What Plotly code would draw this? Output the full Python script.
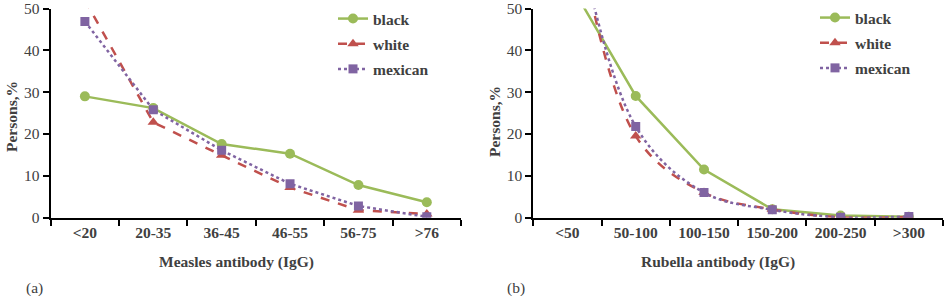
import plotly.graph_objects as go

W, H = 945, 296

measles_categories = ["<20", "20-35", "36-45", "46-55", "56-75", ">76"]
measles_black = [29.0, 26.2, 17.6, 15.3, 7.8, 3.7]
measles_white = [52.0, 22.8, 14.9, 7.2, 1.8, 0.9]
measles_mexican = [46.9, 25.8, 16.1, 8.1, 2.8, 0.2]

rubella_categories = ["<50", "50-100", "100-150", "150-200", "200-250", ">300"]
rubella_black = [57.0, 29.1, 11.5, 2.0, 0.5, 0.2]
rubella_white = [82.0, 19.5, 6.0, 2.0, 0.1, 0.2]
rubella_mexican = [80.0, 21.8, 6.0, 1.9, 0.1, 0.3]

series_names = ["black", "white", "mexican"]
colors = ["#9BBB59", "#C0504D", "#8064A2"]
dashes = ["solid", "dash", "dot"]
symbols = ["circle", "triangle-up", "square"]
sizes = [10, 10, 9]

FONT = "Liberation Serif"
TXT = "#404040"
FS = 15.5


def px_x(p):
    return p / W


def px_y(p):
    return 1 - p / H


fig = go.Figure()

panels = [
    (measles_categories, [measles_black, measles_white, measles_mexican], "x", "y", "legend",
     ["linear", "linear", "linear"]),
    (rubella_categories, [rubella_black, rubella_white, rubella_mexican], "x2", "y2", "legend2",
     ["linear", "spline", "spline"]),
]
for cats, vals, xa, ya, lg, shapes in panels:
    for i, name in enumerate(series_names):
        line = dict(color=colors[i], width=2.5, dash=dashes[i], shape=shapes[i])
        if shapes[i] == "spline":
            line["smoothing"] = 1.0
        fig.add_trace(go.Scatter(
            x=cats, y=vals[i], name="<b>" + name + "</b>", mode="lines+markers",
            xaxis=xa, yaxis=ya, legend=lg, legendgroup=lg + name,
            line=line,
            marker=dict(color=colors[i], symbol=symbols[i], size=sizes[i]),
        ))

tickfont = dict(family=FONT, size=FS, color=TXT)
xcommon = dict(type="category", tickson="boundaries", ticks="outside", ticklen=6,
               tickwidth=2, tickcolor="black", showline=True, linecolor="black",
               linewidth=2, showgrid=False, zeroline=False, tickfont=tickfont,
               range=[-0.5, 5.5], fixedrange=True, ticklabeloverflow="allow",
               tickprefix="<b>", ticksuffix="</b>")
ycommon = dict(range=[0, 50], tickvals=[0, 10, 20, 30, 40, 50], ticks="outside",
               ticklen=6, tickwidth=2, tickcolor="black", showline=True,
               linecolor="black", linewidth=2, showgrid=False, zeroline=False,
               tickfont=tickfont, fixedrange=True, ticklabeloverflow="allow",
               tickprefix="<b>", ticksuffix="</b>")

ydom = [px_y(217.7), px_y(8.5)]
legfont = dict(family=FONT, size=FS, color=TXT)
fig.update_layout(
    width=W, height=H,
    margin=dict(l=0, r=0, t=0, b=0, autoexpand=False),
    paper_bgcolor="white", plot_bgcolor="white",
    font=dict(family=FONT, color=TXT),
    xaxis=dict(domain=[px_x(50.7), px_x(461)], anchor="y", **xcommon),
    yaxis=dict(domain=ydom, anchor="x", **ycommon),
    xaxis2=dict(domain=[px_x(533.3), px_x(943)], anchor="y2", **xcommon),
    yaxis2=dict(domain=ydom, anchor="x2", **ycommon),
    legend=dict(x=px_x(333), y=px_y(2), xanchor="left", yanchor="top",
                font=legfont, itemwidth=30,
                tracegroupgap=2, bgcolor="rgba(0,0,0,0)"),
    legend2=dict(x=px_x(815), y=px_y(1), xanchor="left", yanchor="top",
                 font=legfont, itemwidth=30,
                 tracegroupgap=2, bgcolor="rgba(0,0,0,0)"),
)

ann_font = dict(family=FONT, size=FS, color=TXT)
annotations = [
    dict(text="<b>Persons,%</b>", x=px_x(11), y=px_y(117), textangle=-90),
    dict(text="<b>Persons,%</b>", x=px_x(494), y=px_y(122), textangle=-90),
    dict(text="<b>Measles antibody (IgG)</b>", x=px_x(236.5), y=px_y(262)),
    dict(text="<b>Rubella antibody (IgG)</b>", x=px_x(718), y=px_y(262)),
    dict(text="(a)", x=px_x(34), y=px_y(288)),
    dict(text="(b)", x=px_x(516), y=px_y(288)),
]
for a in annotations:
    fig.add_annotation(xref="paper", yref="paper", showarrow=False,
                       xanchor="center", yanchor="middle", font=ann_font, **a)

fig.write_html("out.html", config={"displayModeBar": False},
               post_script="document.body.style.margin='0';document.body.style.padding='0';")
